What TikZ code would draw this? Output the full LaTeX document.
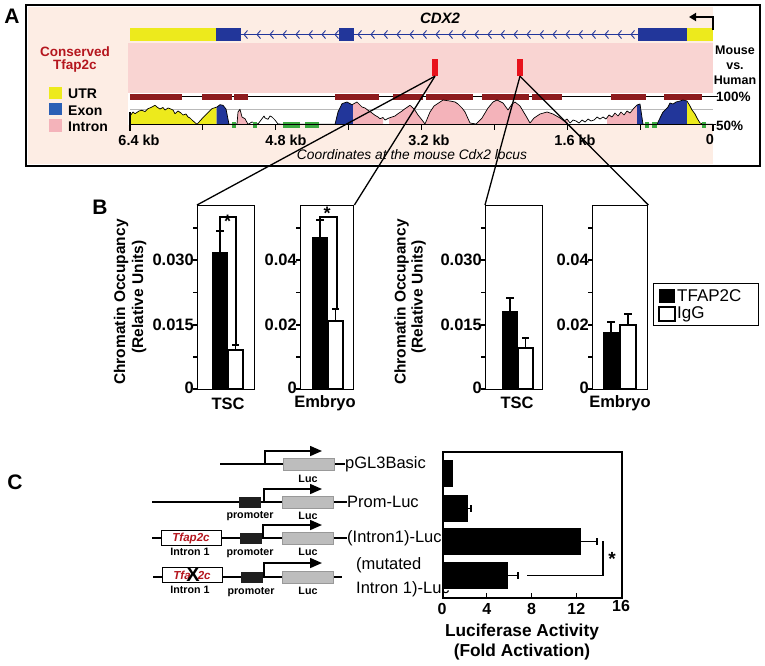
\documentclass[tikz,border=0pt]{standalone}
\usepackage{fontspec}
\setmainfont{Liberation Sans}
\usetikzlibrary{arrows.meta}
\newcommand{\myfs}[1]{\fontsize{#1}{#1}\selectfont}
\definecolor{peach}{HTML}{FDEDE4}
\definecolor{cband}{HTML}{F9D4D2}
\definecolor{utr}{HTML}{EDEA1C}
\definecolor{exon}{HTML}{22369A}
\definecolor{exonL}{HTML}{2A5FB5}
\definecolor{intron}{HTML}{F4B3BA}
\definecolor{cbar}{HTML}{8E1B1E}
\definecolor{cred}{HTML}{E8121C}
\definecolor{cgreen}{HTML}{3BAA3F}
\definecolor{tred}{HTML}{B5161E}
\definecolor{lucgray}{HTML}{BDBDBD}
\begin{document}
\begin{tikzpicture}[x=1pt,y=-1pt,
  lbl/.style={inner sep=0pt,font=\bfseries\myfs{#1}}, lbl/.default=16.5,
  rlbl/.style={inner sep=0pt,font=\myfs{#1}}, rlbl/.default=16.5,
  frame/.style={draw,line width=1.4pt,inner sep=0pt,anchor=north west},
  err/.style={line width=1.2pt},
  dna/.style={line width=2.6pt},
  conn/.style={line width=1.3pt},
  lucbox/.style={fill=lucgray,draw=gray!80,line width=0.6pt,inner sep=0pt,minimum width=51pt,minimum height=12pt},
  promobox/.style={fill=black!88,inner sep=0pt,minimum width=22pt,minimum height=11pt},
  intronbox/.style={fill=white,draw,line width=0.8pt,inner sep=0pt,minimum width=60pt,minimum height=15pt,font=\bfseries\itshape\myfs{11.6},text=tred},
  bent/.style={line width=1.6pt,-{Triangle[length=12pt,width=10pt]}},
  smalll/.style={inner sep=0pt,font=\bfseries\myfs{10.7}}
]
\path[use as bounding box,fill=white] (0,0) rectangle (765,665);

% ================= Panel A =================
\fill[peach] (28,7) rectangle (713,164);
\fill[cband] (128,43) rectangle (713,93);
\fill[white] (128,93) rectangle (713,124.5);
\draw[line width=2pt] (26,5) rectangle (760,166);
\node[lbl=21] (pA) at (12,16) {A};

% gene track
\draw[exon,line width=1pt] (241,34.5) -- (638,34.5);
\foreach \x in {244,257,...,336} \draw[exon,line width=0.9pt] (\x+3.5,30.5) -- (\x,34.5) -- (\x+3.5,38.5);
\foreach \x in {358,371,...,632} \draw[exon,line width=0.9pt] (\x+3.5,30.5) -- (\x,34.5) -- (\x+3.5,38.5);
\fill[utr] (130,28) rectangle (216,41);
\fill[exon] (216,28) rectangle (241,41);
\fill[exon] (339,28) rectangle (354,41);
\fill[exon] (638,28) rectangle (687,41);
\fill[utr] (687,28) rectangle (713,41);
\node[inner sep=0pt,font=\bfseries\itshape\myfs{15}] (cdx) at (440,18) {CDX2};
\coordinate (tss) at (713,30);
\coordinate (tssarrow) at (689,17);
\draw[line width=1.8pt,-{Triangle[length=7pt,width=8pt]}] (tss) |- (tssarrow);

% left labels
\node[lbl=13.5,text=tred,align=center] (cons) at (75,60) {Conserved\\[-0.5pt]Tfap2c};
\fill[utr] (49,87) rectangle (62,99);
\fill[exonL] (49,103) rectangle (62,115);
\fill[intron] (49,119) rectangle (62,132);
\node[lbl=14,anchor=west] (lutr) at (68,94) {UTR};
\node[lbl=14,anchor=west] (lexon) at (68,111) {Exon};
\node[lbl=14,anchor=west] (lintron) at (68,127) {Intron};

% conserved marks
\node[fill=cred,inner sep=0pt,minimum width=6pt,minimum height=17pt] (m1) at (435,67.5) {};
\node[fill=cred,inner sep=0pt,minimum width=6pt,minimum height=17pt] (m2) at (520,67.5) {};

% conservation bars
\draw[line width=0.9pt] (130,96.5) -- (718,96.5);
\foreach \a/\b in {130/182,202/232,234/248,335/379,393/423,426/473,482/529,532/562,611/646,664/702}
  \fill[cbar] (\a,94) rectangle (\b,99.5);

% vista plot
\draw[gray!55,line width=0.8pt] (130,109.5) -- (713,109.5);
\def\vcurve{(130,116) -- (133,112) -- (135,113.7) -- (139,111) -- (141.7,110.3) -- (145,111.5) -- (148,108.7) -- (151,107.5) -- (155,105.3) -- (157,107) -- (160,109) -- (163,107.5) -- (165,110) -- (168,108) -- (170,108.7) -- (173,110) -- (175,113.7) -- (178,111) -- (181,113) -- (183,115) -- (186,114) -- (188,117) -- (190,118) -- (192,120) -- (197,124.3) -- (202,118.7) -- (207,113.7) -- (212,108.7) -- (217,107) -- (220,104.7) -- (223,105.3) -- (226,109) -- (227,114) -- (229,124.3) -- (237,124.3) -- (238,112) -- (240,109.3) -- (242,117) -- (245,118.7) -- (248,124.3) -- (252,122) -- (258,124) -- (262,118.7) -- (264,116) -- (265,118) -- (268,119.3) -- (270,116) -- (272,117) -- (275,120) -- (278,124) -- (285,124.3) -- (335,124.3) -- (338,112) -- (342,103.7) -- (347,102) -- (352,104.7) -- (357,102) -- (362,107) -- (365,108) -- (368,110.3) -- (372,113) -- (375,115.3) -- (378,117) -- (380,118.7) -- (383,117.5) -- (385,120) -- (389,118) -- (392,117) -- (395,116) -- (398,113.7) -- (402,111) -- (405,108.7) -- (410,105.3) -- (413,108) -- (415,110.3) -- (418,115) -- (422,120) -- (425,124) -- (430,112) -- (434,106) -- (437,104) -- (443,100) -- (450,101) -- (455,102) -- (458,104) -- (462,108) -- (465,112) -- (470,123) -- (476,124) -- (482,118) -- (488,108) -- (493,102) -- (497,100) -- (503,103) -- (508,110) -- (512,104) -- (515,102) -- (520,106) -- (526,116) -- (530,123) -- (534,118) -- (540,114) -- (547,112) -- (553,114) -- (560,118) -- (564,121) -- (567,119) -- (570,123) -- (573,120) -- (576,121) -- (579,123) -- (582,120) -- (585,122) -- (588,119) -- (591,121) -- (594,120) -- (597,117) -- (600,119) -- (603,117) -- (606,119) -- (609,115) -- (612,117) -- (615,113) -- (618,116) -- (621,112) -- (624,115) -- (627,111) -- (630,113) -- (634,108) -- (637,105) -- (640,104) -- (643,124.3) -- (657,124.3) -- (660,118) -- (663,112) -- (665,110) -- (668,107) -- (670,103) -- (673,104) -- (676,102) -- (680,101) -- (683,100) -- (687,101) -- (690,106) -- (692,110) -- (695,114) -- (697,118) -- (700,123) -- (705,124.3) -- (713,124.3)}
\foreach \a/\b/\c in {130/216.5/utr,216.5/230/exon,235/249/intron,335/353/exon,353/383/intron,389/474/intron,477/568/intron,607/637/intron,637/644/exon,655/687/exon,687/702/utr}{
  \begin{scope}
    \clip (\a,90) rectangle (\b,126);
    \fill[\c] (130,124.3) -- \vcurve -- (713,124.3) -- cycle;
  \end{scope}
}
\draw[line width=0.7pt,line join=round] \vcurve;
\foreach \a/\b in {232/236,253/257,283/300,305/319,645/649,652/657,702/706}
  \fill[cgreen] (\a,122) rectangle (\b,127.5);
\draw[line width=1.3pt] (130,124.5) -- (716,124.5);
\draw[line width=1.3pt] (130,112) -- (130,131);
\foreach \x in {202.9,275.75,348.6,421.5,494.4,567.25,640.1} \draw[line width=1.1pt] (\x,124.5) -- (\x,129.5);
\draw[line width=1.3pt] (713,124.5) -- (713,131);

% axis labels
\node[lbl=14.5] (k64) at (139,140) {6.4 kb};
\node[lbl=14.5] (k48) at (286,140) {4.8 kb};
\node[lbl=14.5] (k32) at (429,140) {3.2 kb};
\node[lbl=14.5] (k16) at (575,140) {1.6 kb};
\node[lbl=14.5] (k0) at (710,140) {0};
\node[inner sep=0pt,font=\itshape\myfs{13.8}] (coord) at (412,155) {Coordinates at the mouse Cdx2 locus};
\node[lbl=12.5,align=center] (mvh) at (735,65) {Mouse\\[2.5pt]vs.\\[2.5pt]Human};
\node[lbl=13.5,anchor=west] (p100) at (716,97) {100\%};
\node[lbl=13.5,anchor=west] (p50) at (716,126) {50\%};

% ================= Panel B =================
\node[lbl=21] (pB) at (100,207) {B};
\node[lbl=15.5,rotate=90] (ya1) at (121,302) {Chromatin Occupancy};
\node[lbl=15.5,rotate=90] (ya2) at (139,297) {(Relative Units)};
\node[lbl=15.5,rotate=90] (yb1) at (401.5,302) {Chromatin Occupancy};
\node[lbl=15.5,rotate=90] (yb2) at (418.5,297) {(Relative Units)};

% frames
\node[frame,minimum width=57pt,minimum height=184pt] (f1) at (197,205) {};
\node[frame,minimum width=53pt,minimum height=184pt] (f2) at (300,205) {};
\node[frame,minimum width=57pt,minimum height=184pt] (f3) at (485,205) {};
\node[frame,minimum width=55pt,minimum height=184pt] (f4) at (592,205) {};

% ticks
\foreach \fx in {197,300,485,592}
  \foreach \y in {389,357,325,292.5,260,228} \draw[line width=1.2pt] (\fx-4,\y) -- (\fx,\y);

\node[lbl,anchor=east] (t1a) at (194,388) {0};
\node[lbl,anchor=east] (t1b) at (194,325) {0.015};
\node[lbl,anchor=east] (t1c) at (194,260) {0.030};
\node[lbl,anchor=east] (t2a) at (297,388) {0};
\node[lbl,anchor=east] (t2b) at (297,325) {0.02};
\node[lbl,anchor=east] (t2c) at (297,260) {0.04};
\node[lbl,anchor=east] (t3a) at (482,388) {0};
\node[lbl,anchor=east] (t3b) at (482,325) {0.015};
\node[lbl,anchor=east] (t3c) at (482,260) {0.030};
\node[lbl,anchor=east] (t4a) at (589,388) {0};
\node[lbl,anchor=east] (t4b) at (589,325) {0.02};
\node[lbl,anchor=east] (t4c) at (589,260) {0.04};

% bars chart 1
\fill (212,389) rectangle (228,252);
\draw[err] (220,252) -- (220,231); \draw[err] (216,231) -- (224,231);
\draw[line width=1.1pt,fill=white] (228,389) rectangle (243,350);
\draw[err] (235.5,350) -- (235.5,345); \draw[err] (232,345) -- (239,345);
\draw[line width=1.1pt] (220,231) -- (220,217) -- (236,217) -- (236,345);
\node[lbl=18] (s1) at (227.5,221) {*};
% chart 2
\fill (312,389) rectangle (328,237);
\draw[err] (320,237) -- (320,220); \draw[err] (316,220) -- (324,220);
\draw[line width=1.1pt,fill=white] (328,389) rectangle (343,321);
\draw[err] (335.5,321) -- (335.5,309); \draw[err] (332,309) -- (339,309);
\draw[line width=1.1pt] (320,220) -- (320,217) -- (337,217) -- (337,309);
\node[lbl=18] (s2) at (327,213) {*};
% chart 3
\fill (502,389) rectangle (518,311);
\draw[err] (510,311) -- (510,298); \draw[err] (506,298) -- (514,298);
\draw[line width=1.1pt,fill=white] (518,389) rectangle (533,348);
\draw[err] (525.5,348) -- (525.5,338); \draw[err] (522,338) -- (529,338);
% chart 4
\fill (603,389) rectangle (619,332);
\draw[err] (611,332) -- (611,322); \draw[err] (607,322) -- (615,322);
\draw[line width=1.1pt,fill=white] (620,389) rectangle (636,325);
\draw[err] (628,325) -- (628,314); \draw[err] (624,314) -- (632,314);

% x labels
\node[lbl,anchor=base] (x1) at (228,409) {TSC};
\node[lbl,anchor=base] (x2) at (325,407) {Embryo};
\node[lbl,anchor=base] (x3) at (517,408) {TSC};
\node[lbl,anchor=base] (x4) at (620,407) {Embryo};

% legend B
\node[frame,line width=1.3pt,minimum width=105pt,minimum height=42pt] (legB) at (653,283) {};
\fill (659,289) rectangle (675,303);
\draw[line width=1.1pt] (659,307) rectangle (675,321);
\node[rlbl=17,anchor=west] (lgt) at (677,296) {TFAP2C};
\node[rlbl=17,anchor=west] (lgi) at (677,314) {IgG};

% connectors from A to B
\draw[conn] (m1.south) -- (f1.north west);
\draw[conn] (m1.south) -- (f2.north east);
\draw[conn] (m2.south) -- (f3.north west);
\draw[conn] (m2.south) -- (f4.north east);

% ================= Panel C =================
\node[lbl=21] (pC) at (15,482) {C};

% row 1
\coordinate (r1a) at (220,464);
\node[rlbl,anchor=west] (r1l) at (345,464) {pGL3Basic};
\draw[dna] (r1a) -- (r1l.west);
\node[lucbox] (luc1) at (308.5,464) {};
\node[smalll] (lt1) at (308,479) {Luc};
\coordinate (b1s) at (265,464); \coordinate (b1e) at (322,451);
\draw[bent] (b1s) |- (b1e);

% row 2
\coordinate (r2a) at (152,502);
\node[rlbl,anchor=west] (r2l) at (347,502) {Prom-Luc};
\draw[dna] (r2a) -- (r2l.west);
\node[promobox] (pr2) at (250,502) {};
\node[lucbox] (luc2) at (308,502) {};
\node[smalll] (pt2) at (250,516) {promoter};
\node[smalll] (lt2) at (308,516) {Luc};
\coordinate (b2s) at (264,502); \coordinate (b2e) at (322,489);
\draw[bent] (b2s) |- (b2e);

% row 3
\coordinate (r3a) at (152,538);
\node[rlbl,anchor=west] (r3l) at (347,538) {(Intron1)-Luc};
\draw[dna] (r3a) -- (r3l.west);
\node[intronbox] (in3) at (191,538) {Tfap2c};
\node[promobox] (pr3) at (250.5,538.5) {};
\node[lucbox] (luc3) at (308,538.5) {};
\node[smalll] (it3) at (190,552) {Intron 1};
\node[smalll] (pt3) at (250,553) {promoter};
\node[smalll] (lt3) at (308,552) {Luc};
\coordinate (b3s) at (263,538); \coordinate (b3e) at (322,525);
\draw[bent] (b3s) |- (b3e);

% row 4
\coordinate (r4a) at (153,577);
\coordinate (r4e) at (342,577);
\draw[dna] (r4a) -- (r4e);
\node[intronbox] (in4) at (192,575) {Tfa\hphantom{p}2c};
\node[inner sep=0pt,font=\bfseries\myfs{20}] (xx) at (193,575) {X};
\node[promobox] (pr4) at (251.5,577) {};
\node[lucbox] (luc4) at (308,577) {};
\node[smalll] (it4) at (190,590) {Intron 1};
\node[smalll] (pt4) at (251,592) {promoter};
\node[smalll] (lt4) at (308,591) {Luc};
\coordinate (b4s) at (264,577); \coordinate (b4e) at (322,563);
\draw[bent] (b4s) |- (b4e);
\node[rlbl,anchor=west] (r4l1) at (356,565) {(mutated};
\node[rlbl,anchor=west] (r4l2) at (356,589) {Intron 1)-Luc};

% bar chart C
\node[frame,line width=1.5pt,minimum width=179pt,minimum height=146pt] (fc) at (442,451) {};
\fill (442,460) rectangle (453,487);
\fill (442,495) rectangle (468,522);
\fill (442,528) rectangle (581,555);
\fill (442,562) rectangle (508,589);
\draw[err] (468,508.5) -- (471,508.5); \draw[err] (471,505) -- (471,512);
\draw[err] (581,541.5) -- (597,541.5); \draw[err] (597,538) -- (597,545);
\draw[err] (508,575.5) -- (518,575.5); \draw[err] (518,572) -- (518,579);
\draw[line width=1.2pt] (603,541) -- (603,575.5) -- (527,575.5);
\node[lbl=19] (sc) at (612,559) {*};
\foreach \x in {486.75,531.5,576.25} \draw[line width=1.2pt] (\x,597) -- (\x,593);
\node[lbl=16] (c0) at (442,609) {0};
\node[lbl=16] (c4) at (486.75,609) {4};
\node[lbl=16] (c8) at (531.5,609) {8};
\node[lbl=16] (c12) at (576.25,609) {12};
\node[lbl=16] (c16) at (621,606) {16};
\node[lbl=17.3] (cx1) at (522,632) {Luciferase Activity};
\node[lbl=17.3] (cx2) at (522,652) {(Fold Activation)};
\end{tikzpicture}
\end{document}
